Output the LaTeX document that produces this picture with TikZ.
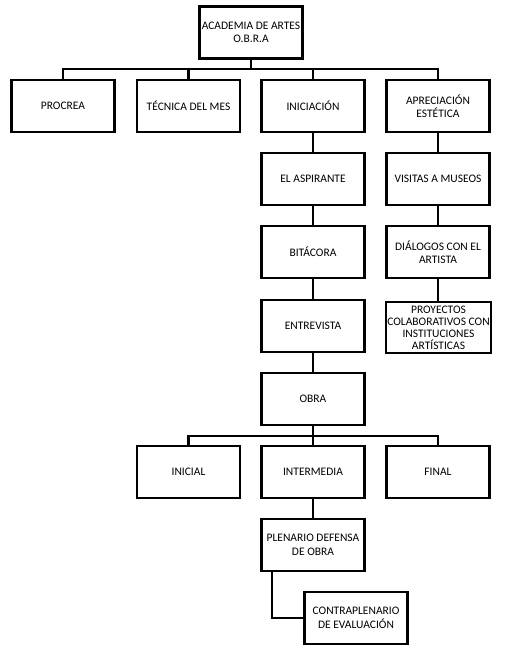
\documentclass[tikz,border=0pt]{standalone}
\usepackage{fontspec}
\setmainfont{Carlito}
\begin{document}
\begin{tikzpicture}[x=1pt,y=-1pt,
  box/.style={draw, line width=2.2pt, fill=white, minimum width=103pt, minimum height=52pt, align=center, inner sep=1pt, font=\fontsize{11.5}{13.5}\selectfont},
  link/.style={line width=2.2pt}]
\useasboundingbox (0,0) rectangle (511,650);
\node[box] (acad) at (251,32.5) {ACADEMIA DE ARTES\\O.B.R.A};
\node[box] (procrea) at (63,106) {PROCREA};
\node[box] (tecnica) at (188.5,106) {TÉCNICA DEL MES};
\node[box] (inic) at (313,106) {INICIACIÓN};
\node[box] (aprec) at (438,106) {APRECIACIÓN\\ESTÉTICA};
\node[box] (aspir) at (313,179) {EL ASPIRANTE};
\node[box] (visitas) at (438,179) {VISITAS A MUSEOS};
\node[box] (bitac) at (313,252) {BITÁCORA};
\node[box] (dialog) at (438,252) {DIÁLOGOS CON EL\\ARTISTA};
\node[box] (entrev) at (313,326) {ENTREVISTA};
\node[box, minimum width=105pt, minimum height=51pt, inner sep=0pt, font=\fontsize{11.5}{12}\selectfont] (proy) at (438.5,327.5) {PROYECTOS\\COLABORATIVOS CON\\INSTITUCIONES\\ARTÍSTICAS};
\node[box] (obra) at (313,399) {OBRA};
\node[box] (inicial) at (188.5,472) {INICIAL};
\node[box] (interm) at (313,472) {INTERMEDIA};
\node[box] (final) at (438,472) {FINAL};
\node[box] (plen) at (313,545) {PLENARIO DEFENSA\\DE OBRA};
\node[box] (contra) at (356,618) {CONTRAPLENARIO\\DE EVALUACIÓN};
\coordinate (bar1) at (251,69);
\draw[link] (acad.south) -- (bar1);
\draw[link] (bar1) -| (procrea.north);
\draw[link] (bar1) -| (tecnica.north);
\draw[link] (bar1) -| (inic.north);
\draw[link] (bar1) -| (aprec.north);
\draw[link] (inic) -- (aspir);
\draw[link] (aspir) -- (bitac);
\draw[link] (bitac) -- (entrev);
\draw[link] (entrev) -- (obra);
\draw[link] (aprec) -- (visitas);
\draw[link] (visitas) -- (dialog);
\draw[link] (dialog.south) -- (dialog.south |- proy.north);
\coordinate (bar2) at (313,436);
\draw[link] (obra.south) -- (bar2);
\draw[link] (bar2) -| (inicial.north);
\draw[link] (bar2) -| (final.north);
\draw[link] (bar2) -- (interm.north);
\draw[link] (interm) -- (plen);
\draw[link] ([xshift=-41pt]plen.south) |- (contra.west);
\end{tikzpicture}
\end{document}
